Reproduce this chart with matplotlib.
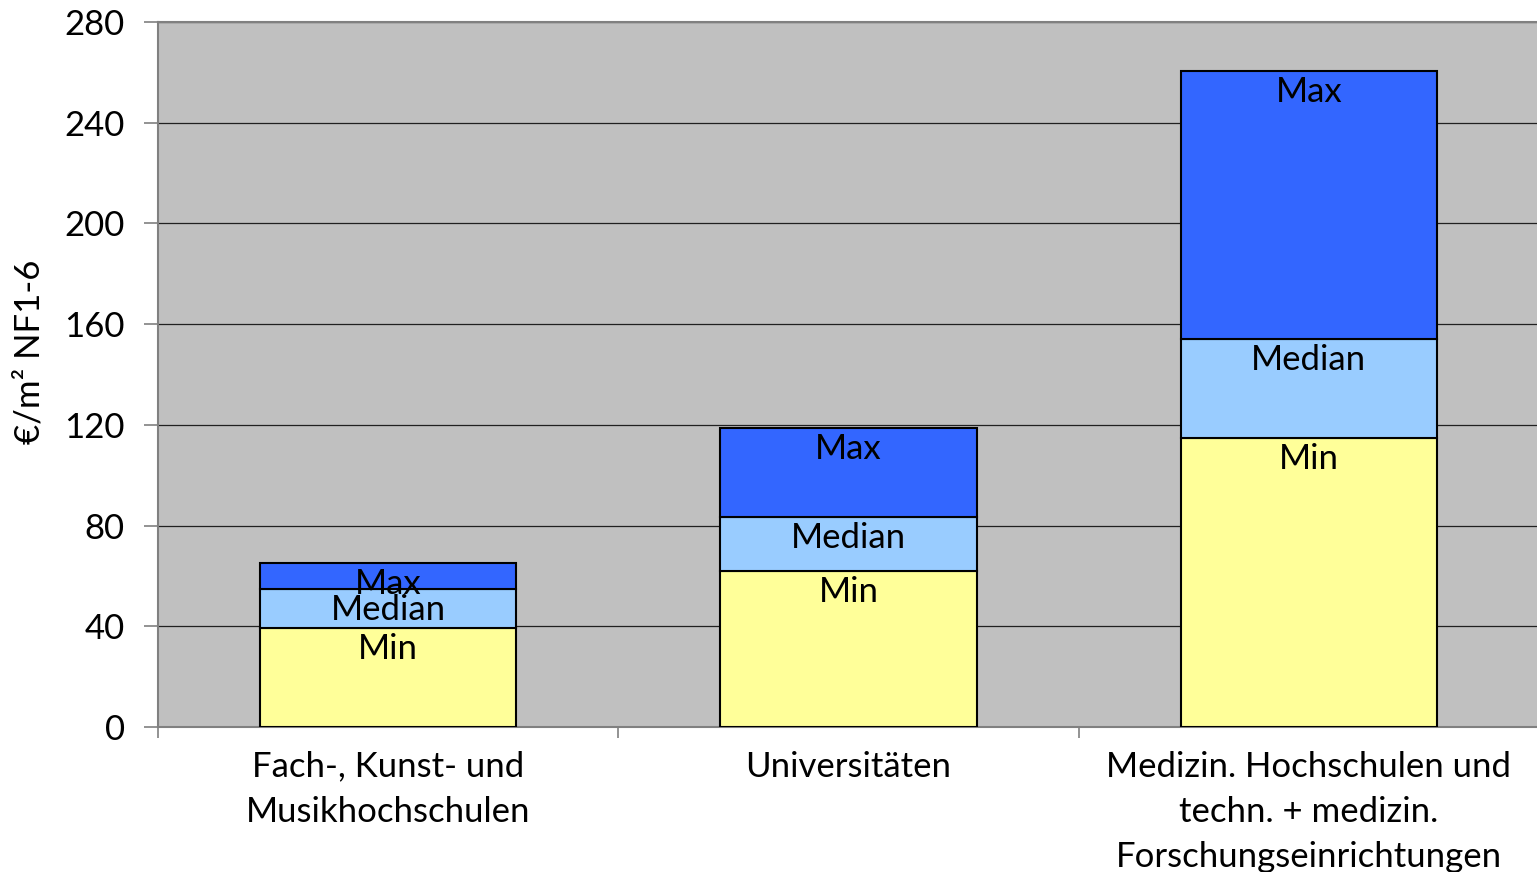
import numpy as np
import matplotlib.pyplot as plt

plt.rcParams['font.family'] = ['Lato', 'DejaVu Sans']

categories = ['Fach-, Kunst- und\nMusikhochschulen', 'Universitäten',
              'Medizin. Hochschulen und\ntechn. + medizin.\nForschungseinrichtungen']
minValues = [39.3, 62.0, 114.8]
medianValues = [54.8, 83.4, 154.1]
maxValues = [65.1, 118.7, 260.5]
seriesNames = ['Min', 'Median', 'Max']
colors = ['#FFFF99', '#99CCFF', '#3366FF']
yticks = [0, 40, 80, 120, 160, 200, 240, 280]

# Segmente fuer gestapelte Balken
segments = [np.array(minValues),
            np.array(medianValues) - np.array(minValues),
            np.array(maxValues) - np.array(medianValues)]

fig = plt.figure(figsize=(15.37, 8.72), dpi=100)
ax = fig.add_axes([0.1028, 0.1663, 0.8985, 0.8085])
ax.set_facecolor('#C0C0C0')

x = np.arange(len(categories))
bottom = np.zeros(len(categories))
for seg, name, col in zip(segments, seriesNames, colors):
    ax.bar(x, seg, bottom=bottom, width=0.557, color=col, edgecolor='black',
           linewidth=1.5, zorder=3)
    for xi, top in zip(x, bottom + seg):
        ax.annotate(name, (xi, top), xytext=(0, -15), textcoords='offset points',
                    ha='center', va='center', fontsize=25, zorder=4)
    bottom = bottom + seg

ax.set_xlim(-0.5, 2.5)
ax.set_ylim(0, 280)
ax.set_yticks(yticks)
ax.set_yticklabels([str(v) for v in yticks], fontsize=25)
ax.grid(axis='y', color='#202020', linewidth=0.9, zorder=1)

ax.set_xticks(x)
ax.set_xticklabels(categories, fontsize=25, linespacing=1.5, va='top')
ax.tick_params(axis='x', which='major', length=0, pad=17)
ax.set_xticks([-0.5, 0.5, 1.5], minor=True)
ax.tick_params(axis='x', which='minor', length=8, color='#808080', width=1.2)
ax.tick_params(axis='y', length=10, color='#808080', width=1.2, pad=14)

for side in ['left', 'bottom', 'top']:
    ax.spines[side].set_color('#808080')
    ax.spines[side].set_linewidth(1.5)
ax.spines['right'].set_visible(False)

ax.set_ylabel('€/m² NF1-6', fontsize=25, va='center')
ax.yaxis.set_label_coords(-0.093, 0.532)

fig.savefig('out.png', dpi=100)
